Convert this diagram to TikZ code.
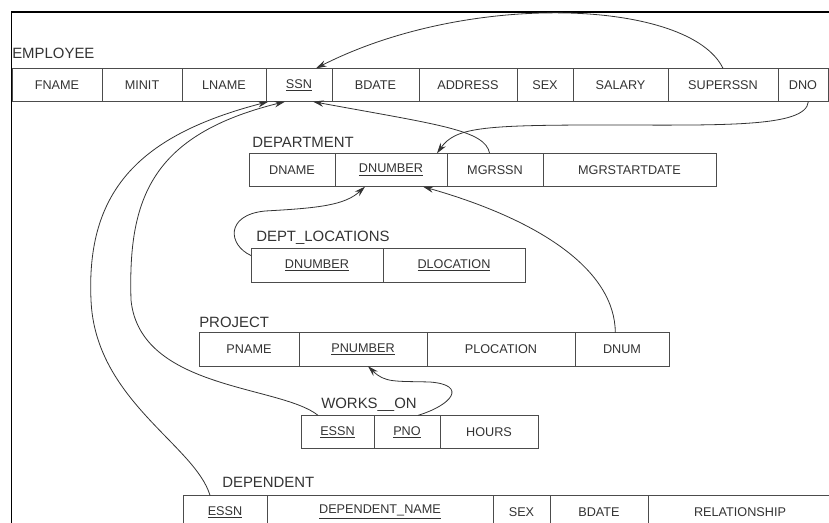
\documentclass[tikz,border=0pt]{standalone}
\usepackage{fontspec}
\setmainfont{Liberation Sans}
\usetikzlibrary{positioning,arrows.meta}

\begin{document}
\begin{tikzpicture}[
  x=0.75pt, y=-0.75pt,
  node distance=0pt,
  cell/.style={draw=black!70,line width=0.7pt,minimum height=25pt,inner sep=1pt,outer sep=0pt,
               font=\fontsize{9.5}{11}\selectfont,text=black!80,anchor=west},
  cw/.style={minimum width=#1*0.75pt},
  tbl/.style={font=\fontsize{11.2}{12}\selectfont,text=black!80,inner sep=0pt,anchor=base west},
  fk/.style={-{Stealth[length=8pt,width=4.8pt]},black!80,line width=0.6pt},
]
\clip (0,0) rectangle (829,522);
\draw[line width=1.2pt] (11.5,530) -- (11.5,12) -- (835,12);

% EMPLOYEE
\node[tbl] (lemp) at (12,58) {EMPLOYEE};
\node[cell,cw=90] (fname) at (12,85) {FNAME};
\node[cell,cw=80,right=of fname] (minit) {MINIT};
\node[cell,cw=84,right=of minit] (lname) {LNAME};
\node[cell,cw=66,right=of lname] (ssn) {\underline{SSN}};
\node[cell,cw=87,right=of ssn] (bdate) {BDATE};
\node[cell,cw=98,right=of bdate] (address) {ADDRESS};
\node[cell,cw=56,right=of address] (sex) {SEX};
\node[cell,cw=95,right=of sex] (salary) {SALARY};
\node[cell,cw=110,right=of salary] (superssn) {SUPERSSN};
\node[cell,cw=50,right=of superssn] (dno) {DNO};

% DEPARTMENT
\node[tbl] (ldept) at (252,147) {DEPARTMENT};
\node[cell,cw=86] (dname) at (249,170) {DNAME};
\node[cell,cw=112,right=of dname] (dnumber) {\underline{DNUMBER}};
\node[cell,cw=96,right=of dnumber] (mgrssn) {MGRSSN};
\node[cell,cw=173,right=of mgrssn] (mgrstart) {MGRSTARTDATE};

% DEPT_LOCATIONS
\node[tbl] (lloc) at (256,241) {DEPT\_LOCATIONS};
\node[cell,cw=132] (ldnumber) at (251,265.5) {\underline{DNUMBER}};
\node[cell,cw=142,right=of ldnumber] (dlocation) {\underline{DLOCATION}};

% PROJECT
\node[tbl] (lproj) at (199,327) {PROJECT};
\node[cell,cw=100] (pname) at (199,349.5) {PNAME};
\node[cell,cw=128,right=of pname] (pnumber) {\underline{PNUMBER}};
\node[cell,cw=148,right=of pnumber] (plocation) {PLOCATION};
\node[cell,cw=94,right=of plocation] (dnum) {DNUM};

% WORKS_ON
\node[tbl] (lworks) at (321,408) {WORKS\_\_ON};
\node[cell,cw=73] (wessn) at (301,432) {\underline{ESSN}};
\node[cell,cw=66,right=of wessn] (pno) {\underline{PNO}};
\node[cell,cw=98,right=of pno] (hours) {HOURS};

% DEPENDENT
\node[tbl] (ldep) at (222,487) {DEPENDENT};
\node[cell,cw=84] (dessn) at (183,512) {\underline{ESSN}};
\node[cell,cw=226,right=of dessn] (depname) {\underline{DEPENDENT\_NAME}};
\node[cell,cw=57,right=of depname] (dsex) {SEX};
\node[cell,cw=98,right=of dsex] (dbdate) {BDATE};
\node[cell,cw=184,right=of dbdate] (relship) {RELATIONSHIP};

% foreign keys
\draw[fk] (superssn.north) .. controls (690,0) and (470,-10) .. ([xshift=12.75pt]ssn.north);
\draw[fk] ([xshift=4pt]dno.south) .. controls (806,128) and (720,125) .. (600,125)
  .. controls (480,125) and (455,128) .. ([xshift=34.5pt]dnumber.north);
\draw[fk] ([xshift=-4pt]mgrssn.north) .. controls (485,130) and (440,125) .. ([xshift=10.5pt]ssn.south);
\draw[fk] ([yshift=-5pt]ldnumber.north west) .. controls (228,245) and (225,215) .. (265,211)
  .. controls (320,208) and (345,205) .. ([xshift=-19.5pt]dnumber.south);
\draw[fk] ([xshift=-5pt]dnum.north) .. controls (615,270) and (540,220) .. ([xshift=24pt]dnumber.south);
\draw[fk] ([xshift=8.25pt]pno.north) .. controls (452,405) and (468,385) .. (430,382)
  .. controls (395,381) and (385,383) .. ([xshift=3.75pt]pnumber.south);
\draw[fk] ([xshift=-14.6pt]wessn.north) .. controls (280,385) and (140,390) .. (131,300)
  .. controls (128,200) and (150,135) .. ([xshift=-10.5pt]ssn.south);
\draw[fk] ([xshift=-11.25pt]dessn.north) .. controls (195,445) and (95,400) .. (91,300)
  .. controls (86,190) and (140,135) .. ([xshift=-23pt]ssn.south);
\end{tikzpicture}
\end{document}
